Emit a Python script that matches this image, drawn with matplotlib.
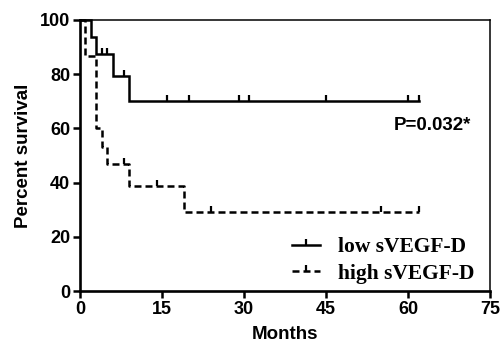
import numpy as np
import matplotlib
matplotlib.use("Agg")
import matplotlib.pyplot as plt
from matplotlib.lines import Line2D

# Data
low_times = [0, 2, 3, 6, 9, 62]
low_surv = [100, 93.75, 87.5, 79.5, 70, 70]
low_censor = [4, 5, 8, 16, 20, 29, 31, 45, 60, 62]

high_times = [0, 1, 3, 4, 5, 9, 19, 62]
high_surv = [100, 86.7, 60, 53.3, 46.7, 38.7, 29, 29]
high_censor = [8, 14, 24, 55, 62]

xticks = [0, 15, 30, 45, 60, 75]
yticks = [0, 20, 40, 60, 80, 100]
labels = ["low sVEGF-D", "high sVEGF-D"]
p_text = "P=0.032*"


def step_value(times, surv, t):
    idx = np.searchsorted(times, t, side="right") - 1
    return np.asarray(surv)[idx]


fig = plt.figure(figsize=(5.01, 3.49), dpi=100)
ax = fig.add_axes([80 / 501, 1 - 291 / 349, 410 / 501, 271 / 349])

lw = 1.8
dash = (2.8, 1.6)
ax.plot(low_times, low_surv, drawstyle="steps-post", color="black", lw=lw,
        solid_joinstyle="miter", clip_on=False)
ax.plot(low_censor, step_value(low_times, low_surv, low_censor), ls="none",
        marker=2, ms=4.5, mew=1.6, color="black", clip_on=False)

ax.plot(high_times, high_surv, drawstyle="steps-post", color="black", lw=lw,
        dashes=dash, clip_on=False)
ax.plot(high_censor, step_value(high_times, high_surv, high_censor), ls="none",
        marker=2, ms=4.5, mew=1.6, color="black", clip_on=False)

ax.set_xlim(0, 75)
ax.set_ylim(0, 100)
ax.set_xticks(xticks)
ax.set_yticks(yticks)
ax.set_xticklabels([str(v) for v in xticks], fontfamily="Liberation Sans",
                   fontweight="bold", fontsize=13)
ax.set_yticklabels([str(v) for v in yticks], fontfamily="Liberation Sans",
                   fontweight="bold", fontsize=13)
ax.tick_params(direction="out", length=5, width=1.8, pad=2)

for side in ["left", "bottom"]:
    ax.spines[side].set_linewidth(1.9)
for side in ["top", "right"]:
    ax.spines[side].set_linewidth(1.1)

ax.set_xlabel("Months", fontfamily="Liberation Sans", fontweight="bold",
              fontsize=13.5, labelpad=6)
ax.set_ylabel("Percent survival", fontfamily="Liberation Sans",
              fontweight="bold", fontsize=13.5, labelpad=6)

ax.text(64.5, 61, p_text, ha="center", va="center",
        fontfamily="Liberation Sans", fontweight="bold", fontsize=13.5)

handles = [
    Line2D([], [], color="black", lw=lw, marker=2, ms=4.5, mew=1.6),
    Line2D([], [], color="black", lw=lw, dashes=dash, marker=2, ms=4.5, mew=1.6),
]
leg = ax.legend(handles, labels, loc="lower right", bbox_to_anchor=(1.01, -0.045),
                frameon=False, handlelength=1.3, handletextpad=0.85,
                labelspacing=0.3, numpoints=1,
                prop={"family": "Liberation Serif", "weight": "bold", "size": 15.5})

fig.savefig("out.png", dpi=100)
